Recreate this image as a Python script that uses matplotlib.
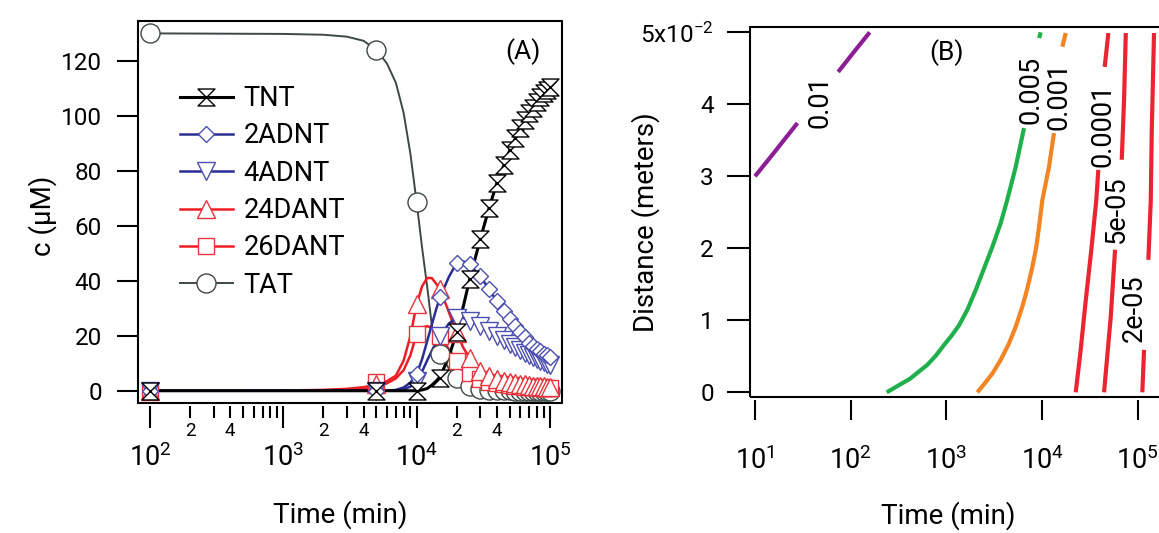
import matplotlib
matplotlib.use('Agg')
import matplotlib.pyplot as plt
import numpy as np
from matplotlib.path import Path
from matplotlib.lines import Line2D
from matplotlib.patches import Rectangle
from matplotlib.ticker import FixedLocator, FuncFormatter, NullLocator

plt.rcParams['font.family'] = ['Roboto', 'DejaVu Sans']
plt.rcParams['mathtext.default'] = 'regular'

# ---------------- panel A : concentrations vs time ----------------
# times of the smooth model curves (min)
t_line = [100, 1000, 2000, 3000, 4000, 5000, 6000, 7000, 8000, 9000, 10000,
          11000, 12000, 13000, 14000, 15000, 17500, 20000, 22500, 25000,
          30000, 35000, 40000, 50000, 60000, 70000, 80000, 90000, 100000]
tnt_line = [0, 0, 0, 0, 0, 0, 0, 0, 0, 0, 0, 0.3, 0.8, 2.0, 3.5, 5.0, 12.5, 21.2,
            31, 40.5, 55, 66.5, 75.5, 87.5, 95.5, 101, 105, 108.2, 110.6]
adnt2_line = [0, 0, 0, 0, 0, 0, 0, 0.3, 1.2, 3, 6, 11.5, 18, 24, 29.5, 34, 41.5,
              46.5, 47, 46, 41.7, 36.9, 32.6, 26, 21.2, 17.5, 15.1, 13.5, 12.3]
adnt4_line = [0, 0, 0, 0, 0, 0, 0, 0.2, 0.6, 1.5, 3.5, 7, 11, 14.5, 17.5, 20,
              24.5, 26.5, 26.5, 25.4, 23.6, 21.7, 19.9, 17, 14.8, 13, 11.5, 10.3, 9.2]
dant24_line = [0, 0.1, 0.3, 0.7, 1.3, 2.2, 3.5, 5.5, 11, 20, 31.4, 38, 41, 41,
               39, 36.9, 28.5, 21, 15.5, 12, 7, 5.2, 4.3, 3.1, 2.5, 2.1, 1.8, 1.6, 1.4]
dant26_line = [0, 0.1, 0.2, 0.4, 0.8, 1.5, 2.7, 4.5, 7.5, 13, 20.6, 23, 23.5, 23,
               21.8, 20, 15, 11, 8.5, 6.5, 4.2, 3.2, 2.7, 2.0, 1.6, 1.4, 1.2, 1.0, 0.9]
tat_line = [130, 129.8, 129.5, 128.8, 127.3, 124, 119, 112, 101, 86, 68.7, 52,
            38, 24, 17, 13.5, 8, 4.5, 2.8, 1.8, 0.8, 0.4, 0.2, 0.1, 0, 0, 0, 0, 0]

# sampled points (markers)
t_mark = [100, 5000, 10000, 15000, 20000, 25000, 30000, 35000, 40000, 45000,
          50000, 55000, 60000, 65000, 70000, 75000, 80000, 85000, 90000, 95000, 100000]
tnt_mark = [0, 0, 0, 4.8, 21.2, 40.5, 55.2, 66.5, 75.5, 82, 87.5, 92, 95.5, 98.5,
            101, 103, 105, 106.7, 108.2, 109.5, 110.6]
adnt2_mark = [0, 0, 6, 34, 46.5, 46, 41.7, 36.9, 32.6, 29.0, 26.0, 23.6, 21.2,
              19.4, 17.5, 16.3, 15.1, 14.3, 13.5, 12.9, 12.3]
adnt4_mark = [0, 0, 3.5, 20, 26.5, 25.4, 23.6, 21.7, 19.9, 18.4, 17.0, 15.8, 14.8,
              13.9, 13.0, 12.2, 11.5, 10.9, 10.3, 9.7, 9.2]
dant24_mark = [0, 2.5, 31.4, 36.9, 21, 12, 7, 5.2, 4.3, 3.6, 3.1, 2.8, 2.5, 2.3,
               2.1, 1.9, 1.8, 1.7, 1.6, 1.5, 1.4]
dant26_mark = [0, 3.0, 20.6, 20, 11, 6.5, 4.2, 3.2, 2.7, 2.3, 2.0, 1.8, 1.6, 1.5,
               1.4, 1.3, 1.2, 1.1, 1.0, 0.95, 0.9]
tat_mark = [130, 124, 68.7, 13.5, 4.5, 1.8, 0.8, 0.4, 0.2, 0.1, 0.1, 0, 0, 0, 0,
            0, 0, 0, 0, 0, 0]

# ---------------- panel B : contour lines (time, distance) ----------------
c001_t = [10, 15, 20, 27.8, np.nan, 74, 110, 158]
c001_d = [0.0300, 0.0329, 0.0350, 0.0374, np.nan, 0.0445, 0.0474, 0.0500]
c0005_t = [238, 418, 630, 776, 948, 1122, 1355, 1660, 2023, 2472, 3020, 3690,
           4315, 5297, 6471, np.nan, 9290, 9661]
c0005_d = [0, 0.0019, 0.0038, 0.0051, 0.0066, 0.0078, 0.0093, 0.0115, 0.0142,
           0.0172, 0.0202, 0.0235, 0.0267, 0.0313, 0.0367, np.nan, 0.0492, 0.0500]
c0001_t = [2104, 2500, 3020, 3690, 4508, 5297, 6209, 7000, 7907, 8690, 9290, 10050,
           11800, 13300, np.nan, 16260, 17660]
c0001_d = [0, 0.0012, 0.0026, 0.0045, 0.0068, 0.0091, 0.0119, 0.0144, 0.0174,
           0.0202, 0.0230, 0.0267, 0.0313, 0.0360, np.nan, 0.0480, 0.0499]
c1em4_t = [22440, 25290, 28580, 32660, 36810, 38640, np.nan, 45080, 49200]
c1em4_d = [0, 0.0059, 0.0128, 0.0198, 0.0267, 0.0309, np.nan, 0.0452, 0.0499]
c5em5_t = [44360, 52120, 57810, np.nan, 67920, 71780, 74820]
c5em5_d = [0, 0.0105, 0.0198, np.nan, 0.0323, 0.0406, 0.0499]
c2em5_t = [111400, 116100, np.nan, 128800, 136500, 139600, 147600]
c2em5_d = [0, 0.0059, np.nan, 0.0184, 0.0267, 0.0360, 0.0499]

contour_labels = ['0.01', '0.005', '0.001', '0.0001', '5e-05', '2e-05']
label_t = [47.8, 7710, 15030, 43250, 59570, 91200]
label_d = [0.0404, 0.0420, 0.0411, 0.0371, 0.0255, 0.0117]

# ---------------- styles ----------------
black = '#000000'
blue_l, blue_m = '#2a2d92', '#4a4fb0'
red_l, red_m = '#ee1d25', '#e8333a'
gray = '#3e4848'

hourglass = Path([(-1, 1), (1, 1), (-1, -1), (1, -1), (-1, 1)],
                 [Path.MOVETO, Path.LINETO, Path.LINETO, Path.LINETO, Path.CLOSEPOLY])

fig = plt.figure(figsize=(11.59, 5.33), dpi=100)
axA = fig.add_axes([138 / 1159, 130 / 533, 424 / 1159, 382 / 533])
axB = fig.add_axes([750 / 1159, 136 / 533, 420 / 1159, 370.3 / 533])

# frame drawn as a box, bottom ticks set slightly away from it
for ax in (axA, axB):
    for s in ax.spines.values():
        s.set_visible(False)
    ax.spines['bottom'].set_position(('outward', 2))
    ax.add_patch(Rectangle((0, 0), 1, 1, transform=ax.transAxes, fill=False,
                           lw=1.5, ec='black', clip_on=False, zorder=5))

# order: last drawn is on top
series = [
    ('TAT', tat_line, tat_mark, gray, gray, 'o', 13.7, 1.4),
    ('26DANT', dant26_line, dant26_mark, red_l, red_m, 's', 11.5, 1.8),
    ('24DANT', dant24_line, dant24_mark, red_l, red_m, '^', 12.5, 1.8),
    ('4ADNT', adnt4_line, adnt4_mark, blue_l, blue_m, 'v', 12.5, 1.8),
    ('2ADNT', adnt2_line, adnt2_mark, blue_l, blue_m, 'D', 8.6, 1.8),
    ('TNT', tnt_line, tnt_mark, black, black, hourglass, 12.2, 2.2),
]
handles = {}
for name, yl, ym, lc, mc, mk, ms, lw in series:
    axA.plot(t_line, yl, color=lc, lw=lw, zorder=2)
    axA.plot(t_mark, ym, ls='none', marker=mk, ms=ms, mfc='white', mec=mc,
             mew=1.0, zorder=3)
    handles[name] = Line2D([], [], color=lc, lw=lw, marker=mk, ms=ms,
                           mfc='white', mec=mc, mew=1.0)

order = ['TNT', '2ADNT', '4ADNT', '24DANT', '26DANT', 'TAT']
axA.legend([handles[k] for k in order], order, loc='upper left',
           bbox_to_anchor=(0.099, 0.832), frameon=False, fontsize=19.5,
           handlelength=1.95, handletextpad=0.4, labelspacing=0.38,
           borderpad=0, borderaxespad=0)

axA.set_xscale('log')
axA.set_xlim(10 ** 1.91, 10 ** 5.091)
axA.set_ylim(-4.46, 134.5)
axA.set_yticks([0, 20, 40, 60, 80, 100, 120])
axA.xaxis.set_major_locator(FixedLocator([1e2, 1e3, 1e4, 1e5]))
axA.xaxis.set_minor_locator(FixedLocator([m * 10 ** e for e in (2, 3, 4) for m in range(2, 10)]))
axA.xaxis.set_major_formatter(FuncFormatter(lambda v, p: '10$^{%d}$' % round(np.log10(v))))
axA.xaxis.set_minor_formatter(FuncFormatter(
    lambda v, p: ('%d' % round(v / 10 ** np.floor(np.log10(v) + 1e-9)))
    if round(v / 10 ** np.floor(np.log10(v) + 1e-9)) in (2, 4) else ''))
axA.set_ylabel('c (μM)', fontsize=20)
axA.yaxis.set_label_coords(-0.19, 0.49)
axA.set_xlabel('Time (min)', fontsize=20)
axA.xaxis.set_label_coords(0.476, -0.255)
axA.text(0.909, 0.92, '(A)', transform=axA.transAxes, fontsize=19,
         ha='center', va='center')

# ---------------- panel B ----------------
contours = [
    (c001_t, c001_d, '#8b1e95'),
    (c0005_t, c0005_d, '#1fb04b'),
    (c0001_t, c0001_d, '#f28424'),
    (c1em4_t, c1em4_d, '#ec2330'),
    (c5em5_t, c5em5_d, '#ec2330'),
    (c2em5_t, c2em5_d, '#ec2330'),
]
for tt, dd, col in contours:
    axB.plot(tt, dd, color=col, lw=3.0, solid_capstyle='butt', solid_joinstyle='round')
for lab, lt, ld in zip(contour_labels, label_t, label_d):
    axB.text(lt, ld, lab, rotation=90, fontsize=19.5, ha='center', va='center')
axB.text(0.467, 0.929, '(B)', transform=axB.transAxes, fontsize=19,
         ha='center', va='center')

axB.set_xscale('log')
axB.set_xlim(10 ** 0.948, 10 ** 5.336)
axB.set_ylim(-0.00065, 0.05078)
axB.xaxis.set_major_locator(FixedLocator([1e1, 1e2, 1e3, 1e4, 1e5]))
axB.xaxis.set_minor_locator(NullLocator())
axB.xaxis.set_major_formatter(FuncFormatter(lambda v, p: '10$^{%d}$' % round(np.log10(v))))
axB.set_yticks([0, 0.01, 0.02, 0.03, 0.04, 0.05])
axB.set_yticklabels(['0', '1', '2', '3', '4', '5x10$^{-2}$'])
axB.set_xlabel('Time (min)', fontsize=20)
axB.xaxis.set_label_coords(0.471, -0.281)
axB.set_ylabel('Distance (meters)', fontsize=20)
axB.yaxis.set_label_coords(-0.215, 0.473)

# tick styling
axA.tick_params(axis='x', which='major', direction='out', length=16, width=1.5,
                pad=11, labelsize=19.5)
axA.tick_params(axis='x', which='minor', direction='out', length=8.5, width=1.5,
                pad=3, labelsize=13.5)
axA.tick_params(axis='y', which='major', direction='out', length=15, width=1.5,
                pad=11, labelsize=17.5)
axB.tick_params(axis='x', which='major', direction='out', length=14.5, width=1.5,
                pad=19, labelsize=19.5)
axB.tick_params(axis='y', which='major', direction='out', length=16.5, width=1.5,
                pad=9.5, labelsize=17.5)

fig.savefig('out.png', dpi=100)
